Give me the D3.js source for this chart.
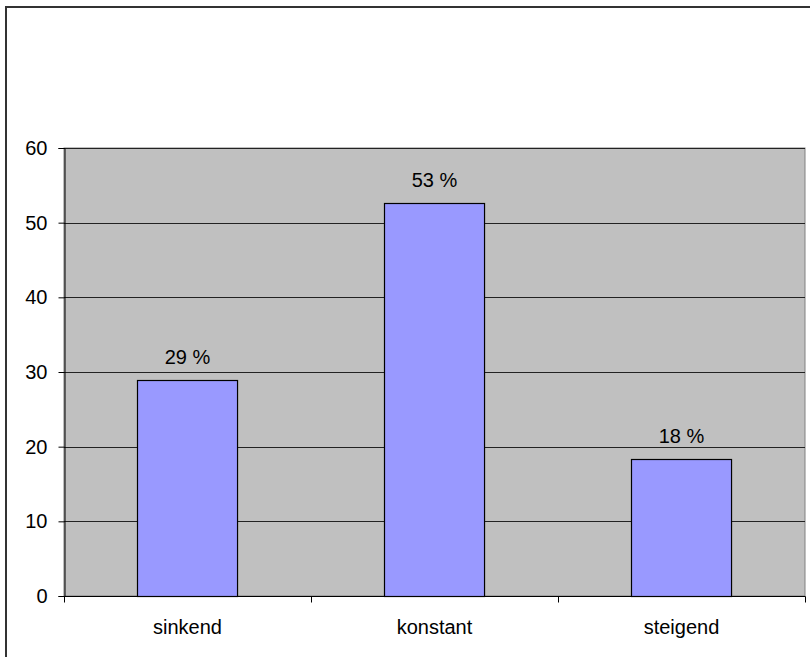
<!DOCTYPE html>
<html>
<head>
<meta charset="utf-8">
<script src="https://cdn.jsdelivr.net/npm/d3@7"></script>
<style>
  html, body { margin: 0; padding: 0; background: #fff; }
  svg { display: block; }
  text { font-family: "Liberation Sans", Arial, sans-serif; fill: #000; }
</style>
</head>
<body>
<svg id="chart" width="810" height="657"></svg>
<script>
// Trend answers, share in percent
const categories = ["sinkend", "konstant", "steigend"];
const values = [28.9, 52.7, 18.3];
const yTicks = [0, 10, 20, 30, 40, 50, 60];

const svg = d3.select("#chart");
const W = 810, H = 657;
const plot = { left: 64, top: 148, right: 805, bottom: 596 };
const fontSize = "20px";

// Outer chart frame (runs past the right and bottom edge)
svg.append("rect")
  .attr("x", 6).attr("y", 7)
  .attr("width", W + 20).attr("height", H + 20)
  .attr("fill", "#fff")
  .attr("stroke", "#333")
  .attr("stroke-width", 2);

const x = d3.scaleBand()
  .domain(categories)
  .range([plot.left, plot.right])
  .paddingInner(0.595)
  .paddingOuter(0.2975);

const xOuter = d3.scaleBand()
  .domain(categories)
  .range([plot.left, plot.right]);

const y = d3.scaleLinear()
  .domain([0, 60])
  .range([plot.bottom, plot.top]);

// Plot area
svg.append("rect")
  .attr("x", plot.left).attr("y", plot.top)
  .attr("width", plot.right - plot.left)
  .attr("height", plot.bottom - plot.top)
  .attr("fill", "#C0C0C0")
  .attr("stroke", "#808080")
  .attr("stroke-width", 1);

// Horizontal gridlines
svg.append("g")
  .selectAll("line")
  .data(yTicks.filter(d => d > 0))
  .join("line")
  .attr("x1", plot.left).attr("x2", plot.right)
  .attr("y1", d => Math.round(y(d)) + 0.5)
  .attr("y2", d => Math.round(y(d)) + 0.5)
  .attr("stroke", "#222")
  .attr("stroke-width", 1);

// Bars
svg.append("g")
  .selectAll("rect")
  .data(values)
  .join("rect")
  .attr("x", (d, i) => Math.round(x(categories[i])) + 0.5)
  .attr("y", d => Math.round(y(d)) + 0.5)
  .attr("width", x.bandwidth())
  .attr("height", d => Math.round(y(0)) - Math.round(y(d)))
  .attr("fill", "#9999FF")
  .attr("stroke", "#000")
  .attr("stroke-width", 1.2);

// Value labels
svg.append("g")
  .selectAll("text")
  .data(values)
  .join("text")
  .attr("x", (d, i) => x(categories[i]) + x.bandwidth() / 2)
  .attr("y", d => y(d) - 16)
  .attr("text-anchor", "middle")
  .attr("font-size", fontSize)
  .text(d => Math.round(d) + " %");

// Y axis
const yAxis = d3.axisLeft(y).tickValues(yTicks).tickSize(6).tickPadding(11);
const gy = svg.append("g")
  .attr("transform", `translate(${plot.left + 0.5},0)`)
  .call(yAxis);
gy.select(".domain").attr("stroke", "#000");
gy.selectAll(".tick line").attr("stroke", "#000");
gy.selectAll(".tick text")
  .attr("font-size", fontSize)
  .attr("font-family", "Liberation Sans, Arial, sans-serif")
  .attr("fill", "#000");

// X axis: ticks sit on the category boundaries
const gx = svg.append("g")
  .attr("transform", `translate(0,${plot.bottom + 0.5})`);
gx.append("line")
  .attr("x1", plot.left).attr("x2", plot.right + 0.5)
  .attr("stroke", "#000");
const bounds = categories.map(c => xOuter(c)).concat([plot.right]);
gx.selectAll("line.tk")
  .data(bounds)
  .join("line")
  .attr("class", "tk")
  .attr("x1", d => Math.round(d) + 0.5).attr("x2", d => Math.round(d) + 0.5)
  .attr("y1", 0).attr("y2", 6)
  .attr("stroke", "#000");
gx.selectAll("text")
  .data(categories)
  .join("text")
  .attr("x", d => xOuter(d) + xOuter.bandwidth() / 2)
  .attr("y", 37)
  .attr("text-anchor", "middle")
  .attr("font-size", fontSize)
  .text(d => d);
</script>
</body>
</html>
